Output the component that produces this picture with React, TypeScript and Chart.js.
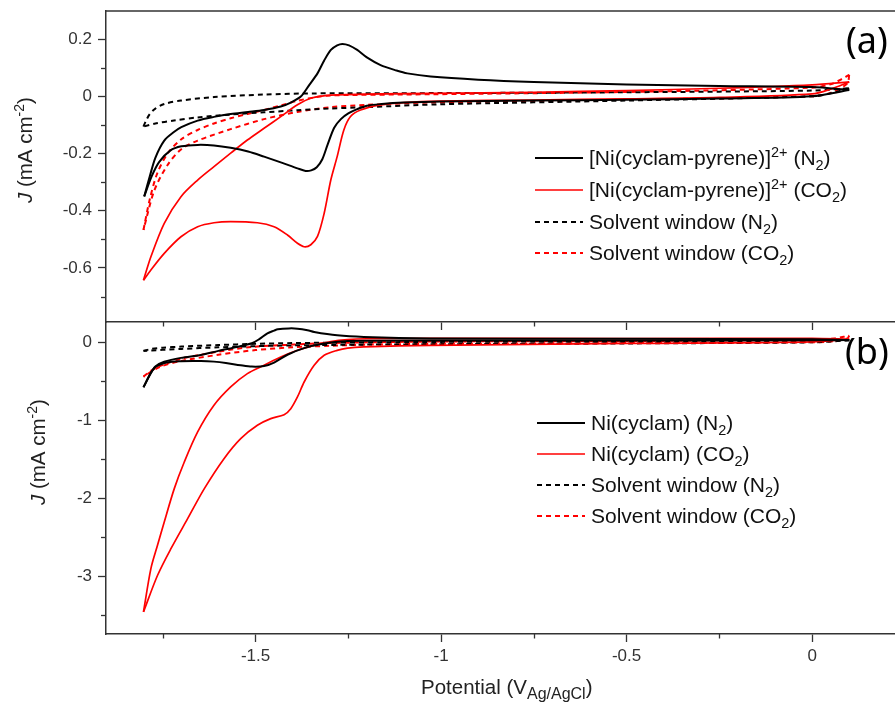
import React, { useEffect, useRef } from 'react';
import { Chart, registerables } from 'chart.js';
Chart.register(...registerables);

type P = [number, number];

// ---------- ticks ----------
const X_MAJOR = [-1.5, -1, -0.5, 0];
const X_MAJOR_LABELS = ['-1.5', '-1', '-0.5', '0'];
const X_MINOR = [-1.75, -1.25, -0.75, -0.25];
const TOP_Y_MAJOR = [0.2, 0, -0.2, -0.4, -0.6];
const TOP_Y_LABELS = ['0.2', '0', '-0.2', '-0.4', '-0.6'];
const TOP_Y_MINOR = [0.1, -0.1, -0.3, -0.5, -0.7];
const BOT_Y_MAJOR = [0, -1, -2, -3];
const BOT_Y_LABELS = ['0', '-1', '-2', '-3'];
const BOT_Y_MINOR = [-0.5, -1.5, -2.5, -3.5];

// ---------- texts ----------
const TOP_SERIES_LABELS = [
  '[Ni(cyclam-pyrene)]^{2+} (N_{2})',
  '[Ni(cyclam-pyrene)]^{2+} (CO_{2})',
  'Solvent window (N_{2})',
  'Solvent window (CO_{2})',
];
const BOT_SERIES_LABELS = [
  'Ni(cyclam) (N_{2})',
  'Ni(cyclam) (CO_{2})',
  'Solvent window (N_{2})',
  'Solvent window (CO_{2})',
];
const Y_TITLE = '*{J} (mA cm^{-2})';
const X_TITLE = 'Potential (V_{Ag/AgCl})';
const PANEL_A = '(a)';
const PANEL_B = '(b)';

// ---------- data: panel (a), [potential V, J mA cm-2] ----------
const TOP_NI_N2_CATH: P[] = [[0.1,0.022],[0,0.0],[-0.25,-0.008],[-0.5,-0.012],[-0.75,-0.015],[-1.0,-0.018],[-1.1,-0.022],[-1.16,-0.027],[-1.2,-0.033],[-1.226,-0.045],[-1.25,-0.06],[-1.27,-0.08],[-1.288,-0.11],[-1.306,-0.17],[-1.32,-0.22],[-1.335,-0.248],[-1.35,-0.259],[-1.365,-0.261],[-1.387,-0.252],[-1.43,-0.232],[-1.477,-0.211],[-1.52,-0.193],[-1.567,-0.18],[-1.612,-0.172],[-1.656,-0.17],[-1.7,-0.175],[-1.73,-0.19],[-1.76,-0.23],[-1.78,-0.28],[-1.8,-0.35]];
const TOP_NI_N2_ANOD: P[] = [[-1.8,-0.35],[-1.785,-0.28],[-1.77,-0.215],[-1.746,-0.155],[-1.72,-0.125],[-1.7,-0.108],[-1.656,-0.085],[-1.612,-0.072],[-1.567,-0.062],[-1.52,-0.055],[-1.477,-0.048],[-1.432,-0.036],[-1.405,-0.022],[-1.378,-0.001],[-1.355,0.04],[-1.333,0.08],[-1.315,0.125],[-1.297,0.162],[-1.28,0.178],[-1.266,0.183],[-1.248,0.178],[-1.226,0.162],[-1.2,0.136],[-1.163,0.109],[-1.12,0.09],[-1.091,0.08],[-1.028,0.069],[-0.9,0.058],[-0.75,0.05],[-0.5,0.041],[-0.25,0.036],[0,0.032],[0.1,0.022]];
const TOP_NI_CO2_CATH: P[] = [[0.1,0.05],[0.05,0.025],[0,0.008],[-0.25,-0.004],[-0.5,-0.009],[-0.75,-0.013],[-1.0,-0.017],[-1.1,-0.022],[-1.163,-0.03],[-1.217,-0.048],[-1.244,-0.071],[-1.262,-0.118],[-1.28,-0.211],[-1.297,-0.292],[-1.315,-0.409],[-1.333,-0.49],[-1.351,-0.519],[-1.369,-0.526],[-1.387,-0.514],[-1.414,-0.485],[-1.45,-0.456],[-1.495,-0.442],[-1.567,-0.438],[-1.612,-0.442],[-1.656,-0.456],[-1.701,-0.491],[-1.746,-0.549],[-1.782,-0.607],[-1.802,-0.643]];
const TOP_NI_CO2_ANOD: P[] = [[-1.802,-0.643],[-1.782,-0.561],[-1.746,-0.444],[-1.701,-0.351],[-1.656,-0.293],[-1.612,-0.246],[-1.567,-0.199],[-1.522,-0.153],[-1.477,-0.112],[-1.432,-0.071],[-1.387,-0.03],[-1.351,-0.007],[-1.297,0.004],[-1.163,0.008],[-1.028,0.01],[-0.75,0.014],[-0.5,0.02],[-0.25,0.028],[0,0.04],[0.1,0.05]];
const TOP_SOLV_N2_CATH: P[] = [[0.1,0.028],[0.05,0.01],[0,0.0],[-0.5,-0.015],[-1.0,-0.028],[-1.2,-0.038],[-1.3,-0.043],[-1.387,-0.049],[-1.477,-0.056],[-1.567,-0.064],[-1.656,-0.074],[-1.72,-0.085],[-1.77,-0.095],[-1.802,-0.106]];
const TOP_SOLV_N2_ANOD: P[] = [[-1.802,-0.106],[-1.795,-0.085],[-1.785,-0.062],[-1.77,-0.043],[-1.746,-0.027],[-1.701,-0.015],[-1.612,-0.003],[-1.477,0.006],[-1.342,0.01],[-1.028,0.011],[-0.5,0.014],[0,0.02],[0.1,0.028]];
const TOP_SOLV_CO2_CATH: P[] = [[0.1,0.075],[0.095,0.045],[0.05,0.012],[0,0.0],[-0.5,-0.012],[-1.028,-0.022],[-1.2,-0.03],[-1.297,-0.038],[-1.387,-0.055],[-1.477,-0.08],[-1.567,-0.115],[-1.656,-0.155],[-1.7,-0.185],[-1.737,-0.24],[-1.773,-0.33],[-1.802,-0.467]];
const TOP_SOLV_CO2_ANOD: P[] = [[-1.802,-0.467],[-1.785,-0.36],[-1.765,-0.27],[-1.737,-0.2],[-1.7,-0.15],[-1.656,-0.118],[-1.612,-0.095],[-1.567,-0.077],[-1.522,-0.062],[-1.477,-0.048],[-1.432,-0.032],[-1.387,-0.016],[-1.342,-0.004],[-1.297,0.003],[-1.028,0.007],[-0.5,0.015],[0,0.03],[0.05,0.042],[0.08,0.06],[0.1,0.075]];

// ---------- data: panel (b) ----------
const BOT_NI_N2_CATH: P[] = [[0.1,0.03],[0,0.025],[-0.5,0.022],[-1.0,0.022],[-1.2,0.02],[-1.252,0.015],[-1.315,-0.017],[-1.369,-0.075],[-1.414,-0.16],[-1.45,-0.26],[-1.477,-0.305],[-1.51,-0.312],[-1.54,-0.295],[-1.58,-0.265],[-1.612,-0.248],[-1.647,-0.24],[-1.701,-0.242],[-1.74,-0.26],[-1.773,-0.33],[-1.802,-0.577]];
const BOT_NI_N2_ANOD: P[] = [[-1.802,-0.577],[-1.785,-0.42],[-1.77,-0.31],[-1.746,-0.25],[-1.701,-0.2],[-1.647,-0.163],[-1.6,-0.11],[-1.55,-0.06],[-1.51,-0.013],[-1.49,0.04],[-1.468,0.115],[-1.45,0.15],[-1.44,0.167],[-1.41,0.178],[-1.387,0.175],[-1.36,0.155],[-1.342,0.132],[-1.28,0.089],[-1.208,0.068],[-1.028,0.05],[-0.5,0.045],[0,0.04],[0.1,0.03]];
const BOT_NI_CO2_CATH: P[] = [[0.1,0.04],[0,0.005],[-0.5,-0.015],[-1.028,-0.039],[-1.208,-0.06],[-1.252,-0.075],[-1.28,-0.103],[-1.315,-0.167],[-1.342,-0.295],[-1.369,-0.509],[-1.387,-0.701],[-1.405,-0.851],[-1.423,-0.928],[-1.459,-0.979],[-1.495,-1.064],[-1.54,-1.235],[-1.585,-1.492],[-1.638,-1.876],[-1.683,-2.261],[-1.728,-2.646],[-1.764,-2.987],[-1.802,-3.457]];
const BOT_NI_CO2_ANOD: P[] = [[-1.802,-3.457],[-1.782,-2.902],[-1.764,-2.6],[-1.746,-2.304],[-1.719,-1.876],[-1.692,-1.535],[-1.656,-1.15],[-1.612,-0.808],[-1.567,-0.573],[-1.522,-0.402],[-1.477,-0.295],[-1.432,-0.189],[-1.387,-0.103],[-1.342,-0.039],[-1.297,0.01],[-1.252,0.035],[-1.2,0.045],[-1.028,0.05],[-0.5,0.048],[0,0.05],[0.1,0.04]];
const BOT_SOLV_N2_CATH: P[] = [[0.1,0.025],[0,0.0],[-0.5,-0.015],[-1.0,-0.025],[-1.2,-0.03],[-1.4,-0.04],[-1.5,-0.05],[-1.6,-0.065],[-1.7,-0.085],[-1.802,-0.11]];
const BOT_SOLV_N2_ANOD: P[] = [[-1.802,-0.11],[-1.78,-0.085],[-1.75,-0.07],[-1.7,-0.055],[-1.6,-0.035],[-1.5,-0.02],[-1.4,-0.01],[-1.0,0.005],[0,0.018],[0.1,0.025]];
const BOT_SOLV_CO2_CATH: P[] = [[0.1,0.085],[0.095,0.05],[0.05,0.01],[0,0.0],[-0.5,-0.01],[-1.0,-0.02],[-1.2,-0.03],[-1.3,-0.045],[-1.4,-0.065],[-1.5,-0.1],[-1.6,-0.16],[-1.7,-0.24],[-1.76,-0.32],[-1.802,-0.44]];
const BOT_SOLV_CO2_ANOD: P[] = [[-1.802,-0.44],[-1.78,-0.36],[-1.755,-0.3],[-1.7,-0.21],[-1.647,-0.16],[-1.6,-0.12],[-1.51,-0.06],[-1.4,-0.03],[-1.3,-0.01],[-1.0,0.01],[-0.5,0.015],[0,0.035],[0.06,0.05],[0.085,0.07],[0.1,0.085]];

// ---------- styling / layout ----------
const FONT = "'Liberation Sans', Arial, sans-serif";
const AXIS = '#333333';
const BLACK = '#000000';
const RED = '#ff0000';
const DASH = [5, 4];
const X_MIN = -1.903;
const X_MAX = 0.2234;

type Seg = { t: string; k: 'n' | 'sub' | 'sup' | 'i' };
function parseRich(s: string): Seg[] {
  const out: Seg[] = [];
  const re = /(_\{([^}]*)\}|\^\{([^}]*)\}|\*\{([^}]*)\})/g;
  let last = 0;
  let m: RegExpExecArray | null;
  while ((m = re.exec(s))) {
    if (m.index > last) out.push({ t: s.slice(last, m.index), k: 'n' });
    if (m[2] !== undefined) out.push({ t: m[2], k: 'sub' });
    else if (m[3] !== undefined) out.push({ t: m[3], k: 'sup' });
    else out.push({ t: m[4], k: 'i' });
    last = re.lastIndex;
  }
  if (last < s.length) out.push({ t: s.slice(last), k: 'n' });
  return out;
}

type RichOpt = { size: number; small: number; sup: number; sub: number; color: string };
function drawRich(ctx: CanvasRenderingContext2D, text: string, x: number, y: number, o: RichOpt) {
  ctx.textAlign = 'left';
  ctx.textBaseline = 'alphabetic';
  ctx.fillStyle = o.color;
  let cx = x;
  for (const seg of parseRich(text)) {
    const small = seg.k === 'sub' || seg.k === 'sup';
    const sz = small ? o.small : o.size;
    ctx.font = `${seg.k === 'i' ? 'italic ' : ''}${sz}px ${FONT}`;
    const dy = seg.k === 'sup' ? -o.sup : seg.k === 'sub' ? o.sub : 0;
    ctx.fillText(seg.t, cx, y + dy);
    cx += ctx.measureText(seg.t).width;
  }
  return cx - x;
}

type DecorCfg = {
  yMinor: number[];
  topBorder: boolean;
  legend: { x1: number; x2: number; tx: number; ys: number[] };
  panel: { text: string; x: number; y: number };
  yTitle: { x: number; y: number };
  xTitle?: { x: number; y: number };
};

function makeDecor(cfg: DecorCfg) {
  return {
    id: 'decor',
    afterDraw(chart: any) {
      const ctx: CanvasRenderingContext2D = chart.ctx;
      const xs = chart.scales.x;
      const ys = chart.scales.y;
      const area = chart.chartArea;
      ctx.save();
      ctx.strokeStyle = AXIS;
      ctx.lineWidth = 1.3;
      // minor ticks
      for (const v of X_MINOR) {
        const px = Math.round(xs.getPixelForValue(v)) + 0.5;
        ctx.beginPath();
        ctx.moveTo(px, area.bottom);
        ctx.lineTo(px, area.bottom + 4.5);
        ctx.stroke();
      }
      for (const v of cfg.yMinor) {
        const py = Math.round(ys.getPixelForValue(v)) + 0.5;
        ctx.beginPath();
        ctx.moveTo(area.left - 5, py);
        ctx.lineTo(area.left, py);
        ctx.stroke();
      }
      if (cfg.topBorder) {
        ctx.lineWidth = 1.5;
        ctx.beginPath();
        ctx.moveTo(area.left, area.top);
        ctx.lineTo(area.right, area.top);
        ctx.stroke();
      }
      // legend
      const entries = chart.data.datasets.filter((d: any) => d.label);
      entries.forEach((d: any, i: number) => {
        const y = cfg.legend.ys[i];
        ctx.strokeStyle = d.borderColor;
        ctx.lineWidth = d.borderWidth;
        ctx.setLineDash(d.borderDash || []);
        ctx.beginPath();
        ctx.moveTo(cfg.legend.x1, y);
        ctx.lineTo(cfg.legend.x2, y);
        ctx.stroke();
        ctx.setLineDash([]);
        drawRich(ctx, d.label, cfg.legend.tx, y + 7, { size: 21, small: 14.5, sup: 8, sub: 4.5, color: '#111' });
      });
      // panel label
      ctx.fillStyle = '#000';
      ctx.font = `36px 'Noto Sans', sans-serif`;
      ctx.textAlign = 'left';
      ctx.textBaseline = 'alphabetic';
      ctx.fillText(cfg.panel.text, cfg.panel.x, cfg.panel.y);
      // y title (rotated)
      ctx.save();
      ctx.translate(cfg.yTitle.x, cfg.yTitle.y);
      ctx.rotate(-Math.PI / 2);
      drawRich(ctx, Y_TITLE, 0, 0, { size: 20.5, small: 14, sup: 8, sub: 4, color: '#222' });
      ctx.restore();
      if (cfg.xTitle) {
        drawRich(ctx, X_TITLE, cfg.xTitle.x, cfg.xTitle.y, { size: 20.5, small: 16, sup: 8, sub: 5, color: '#222' });
      }
      ctx.restore();
    },
  };
}

const mk = (label: string, pts: P[], color: string, dash: number[], width: number) => ({
  label,
  data: pts.map(([x, y]) => ({ x, y })),
  borderColor: color,
  backgroundColor: color,
  borderDash: dash,
  borderWidth: width,
  pointRadius: 0,
  tension: 0.3,
  fill: false,
});

const labelFor = (majors: number[], labels: string[]) => (v: any) => {
  const i = majors.findIndex((m) => Math.abs(m - Number(v)) < 1e-9);
  return i >= 0 ? labels[i] : '';
};

function makeConfig(opts: {
  datasets: any[];
  yMin: number;
  yMax: number;
  yMajor: number[];
  yLabels: string[];
  padTop: number;
  xHeight: number;
  xLabels: boolean;
  decor: DecorCfg;
}): any {
  return {
    type: 'line',
    data: { datasets: opts.datasets },
    options: {
      animation: false,
      responsive: false,
      maintainAspectRatio: false,
      events: [],
      layout: { padding: { top: opts.padTop, left: 0, right: 0, bottom: 0 } },
      plugins: { legend: { display: false }, tooltip: { enabled: false }, title: { display: false } },
      scales: {
        x: {
          type: 'linear',
          min: X_MIN,
          max: X_MAX,
          afterBuildTicks: (s: any) => {
            s.ticks = X_MAJOR.map((v) => ({ value: v }));
          },
          afterFit: (s: any) => {
            s.height = opts.xHeight;
            s.paddingLeft = 0;
            s.paddingRight = 0;
          },
          ticks: {
            display: opts.xLabels,
            color: '#333',
            font: { family: FONT, size: 17 },
            padding: 4,
            maxRotation: 0,
            autoSkip: false,
            callback: labelFor(X_MAJOR, X_MAJOR_LABELS),
          },
          grid: { display: true, drawOnChartArea: false, drawTicks: true, tickLength: 8, tickWidth: 1.3, tickColor: AXIS },
          border: { display: true, color: AXIS, width: 1.5 },
        },
        y: {
          type: 'linear',
          min: opts.yMin,
          max: opts.yMax,
          afterBuildTicks: (s: any) => {
            s.ticks = opts.yMajor.map((v) => ({ value: v }));
          },
          afterFit: (s: any) => {
            s.width = 106;
            s.paddingTop = 0;
            s.paddingBottom = 0;
          },
          ticks: {
            color: '#333',
            font: { family: FONT, size: 17 },
            padding: 6,
            autoSkip: false,
            callback: labelFor(opts.yMajor, opts.yLabels),
          },
          grid: { display: true, drawOnChartArea: false, drawTicks: true, tickLength: 8, tickWidth: 1.3, tickColor: AXIS },
          border: { display: true, color: AXIS, width: 1.5 },
        },
      },
    },
    plugins: [makeDecor(opts.decor)],
  };
}

export default function App() {
  const topRef = useRef<HTMLCanvasElement>(null);
  const botRef = useRef<HTMLCanvasElement>(null);

  useEffect(() => {
    const topSets = [
      mk(TOP_SERIES_LABELS[0], TOP_NI_N2_CATH, BLACK, [], 2),
      mk('', TOP_NI_N2_ANOD, BLACK, [], 2),
      mk(TOP_SERIES_LABELS[1], TOP_NI_CO2_CATH, RED, [], 1.7),
      mk('', TOP_NI_CO2_ANOD, RED, [], 1.7),
      mk(TOP_SERIES_LABELS[2], TOP_SOLV_N2_CATH, BLACK, DASH, 2),
      mk('', TOP_SOLV_N2_ANOD, BLACK, DASH, 2),
      mk(TOP_SERIES_LABELS[3], TOP_SOLV_CO2_CATH, RED, DASH, 2),
      mk('', TOP_SOLV_CO2_ANOD, RED, DASH, 2),
    ];
    const botSets = [
      mk(BOT_SERIES_LABELS[0], BOT_NI_N2_CATH, BLACK, [], 2),
      mk('', BOT_NI_N2_ANOD, BLACK, [], 2),
      mk(BOT_SERIES_LABELS[1], BOT_NI_CO2_CATH, RED, [], 1.7),
      mk('', BOT_NI_CO2_ANOD, RED, [], 1.7),
      mk(BOT_SERIES_LABELS[2], BOT_SOLV_N2_CATH, BLACK, DASH, 2),
      mk('', BOT_SOLV_N2_ANOD, BLACK, DASH, 2),
      mk(BOT_SERIES_LABELS[3], BOT_SOLV_CO2_CATH, RED, DASH, 2),
      mk('', BOT_SOLV_CO2_ANOD, RED, DASH, 2),
    ];
    const c1 = new Chart(
      topRef.current!,
      makeConfig({
        datasets: topSets,
        yMin: -0.789,
        yMax: 0.298,
        yMajor: TOP_Y_MAJOR,
        yLabels: TOP_Y_LABELS,
        padTop: 11,
        xHeight: 18,
        xLabels: false,
        decor: {
          yMinor: TOP_Y_MINOR,
          topBorder: true,
          legend: { x1: 535, x2: 583, tx: 589, ys: [158, 190, 222, 253] },
          panel: { text: PANEL_A, x: 846, y: 53 },
          yTitle: { x: 32, y: 203 },
        },
      })
    );
    const c2 = new Chart(
      botRef.current!,
      makeConfig({
        datasets: botSets,
        yMin: -3.74,
        yMax: 0.26,
        yMajor: BOT_Y_MAJOR,
        yLabels: BOT_Y_LABELS,
        padTop: 0,
        xHeight: 68,
        xLabels: true,
        decor: {
          yMinor: BOT_Y_MINOR,
          topBorder: false,
          legend: { x1: 537, x2: 585, tx: 591, ys: [101, 132, 163, 194] },
          panel: { text: PANEL_B, x: 845, y: 42 },
          yTitle: { x: 45, y: 183 },
          xTitle: { x: 421, y: 372 },
        },
      })
    );
    return () => {
      c1.destroy();
      c2.destroy();
    };
  }, []);

  return (
    <div style={{ position: 'fixed', left: 0, top: 0, width: 895, height: 702, background: '#fff', overflow: 'hidden' }}>
      <canvas ref={botRef} width={895} height={380} style={{ position: 'absolute', left: 0, top: 322, width: 895, height: 380 }} />
      <canvas ref={topRef} width={895} height={340} style={{ position: 'absolute', left: 0, top: 0, width: 895, height: 340 }} />
    </div>
  );
}
